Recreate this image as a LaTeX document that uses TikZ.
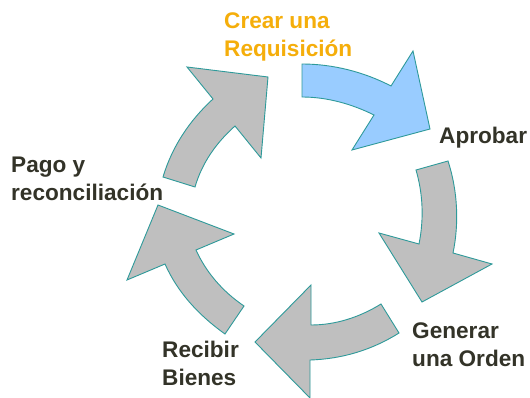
\documentclass[tikz,border=0pt]{standalone}
\usepackage{fontspec}
\setmainfont{Liberation Sans}
\definecolor{tealline}{HTML}{2E9A9A}
\definecolor{greyfill}{HTML}{BFBFBF}
\definecolor{bluefill}{HTML}{99CCFF}
\definecolor{labeltext}{HTML}{333328}
\definecolor{activetext}{HTML}{F5AE0B}
\tikzset{
  cyclearrow/.style={draw=tealline,line width=0.9pt,line join=miter,fill=greyfill},
  activearrow/.style={cyclearrow,fill=bluefill},
  steplabel/.style={anchor=west,align=left,inner sep=0pt,text=labeltext,font=\fontsize{22.6}{28}\selectfont\bfseries},
  activelabel/.style={steplabel,text=activetext}
}
\begin{document}
\begin{tikzpicture}[x=1pt,y=-1pt]
\useasboundingbox (0,0) rectangle (530,398);
\fill[white] (0,0) rectangle (530,398);
\draw[activearrow] (302,64) .. controls (333,64) and (364,72) .. (391,86) -- (413,51) -- (430,129) -- (352,150) -- (374,115) .. controls (352,104) and (327,97) .. (302,97) -- cycle;
\draw[cyclearrow] (416,170) -- (448,161) .. controls (458,192) and (459,224) .. (453,253) -- (492,264) -- (422,302) -- (379,233) -- (419,244) .. controls (424,219) and (423,194) .. (416,170) -- cycle;
\draw[cyclearrow] (381,304) -- (399,333) .. controls (372,350) and (342,359) .. (310,360) -- (310,398) -- (255,342) -- (311,285) -- (311,325) .. controls (336,325) and (360,317) .. (381,304) -- cycle;
\draw[cyclearrow] (244,306) -- (225,334) .. controls (197,314) and (177,291) .. (165,264) -- (127,280) -- (158,205) -- (234,234) -- (196,250) .. controls (206,272) and (222,291) .. (244,306) -- cycle;
\draw[cyclearrow] (163,177) -- (195,187) .. controls (202,163) and (216,143) .. (235,126) -- (261,158) -- (268,77) -- (187,67) -- (213,99) .. controls (189,121) and (172,147) .. (163,177) -- cycle;
\node[activelabel] (crear) at (224,37) {Crear una\\Requisición};
\node[steplabel] (aprobar) at (439,138) {Aprobar};
\node[steplabel] (generar) at (412,345) {Generar\\una Orden};
\node[steplabel] (recibir) at (162,363) {Recibir\\Bienes};
\node[steplabel] (pago) at (11,179) {Pago y\\reconciliación};
\end{tikzpicture}
\end{document}
